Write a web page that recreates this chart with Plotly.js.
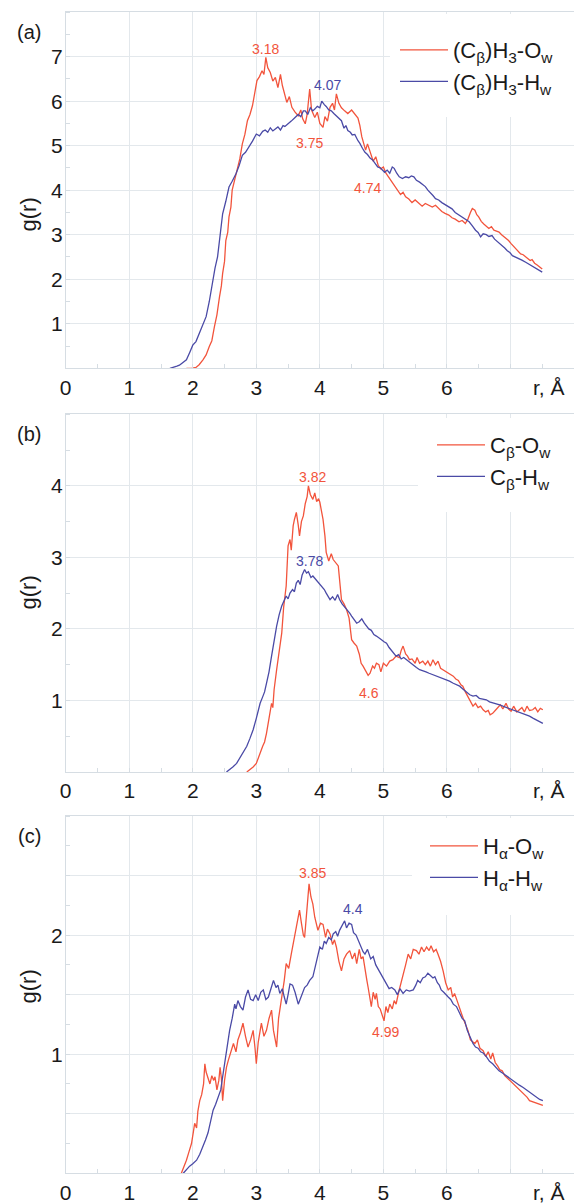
<!DOCTYPE html>
<html><head><meta charset="utf-8">
<script src="https://cdn.plot.ly/plotly-3.0.1.min.js"></script>
<style>html,body{margin:0;padding:0;background:#fff}</style>
</head><body><div id="chart" style="width:574px;height:1203px"></div>
<script>
// ---- data: [r (Å), g(r)] ----
const aOw = [[1.90,0],[1.98,0],[2.05,0.02],[2.10,0.08],[2.16,0.19],[2.21,0.30],[2.26,0.49],[2.30,0.62],[2.34,0.93],[2.38,1.20],[2.42,1.60],[2.45,1.85],[2.47,2.13],[2.50,2.40],[2.52,2.87],[2.55,3.05],[2.57,3.40],[2.60,3.62],[2.62,4.00],[2.66,4.25],[2.70,4.51],[2.74,4.70],[2.78,5.04],[2.82,5.25],[2.86,5.56],[2.90,5.70],[2.94,5.90],[2.98,6.20],[3.01,6.46],[3.05,6.55],[3.09,6.68],[3.12,6.60],[3.15,6.98],[3.18,6.75],[3.22,6.64],[3.26,6.45],[3.30,6.53],[3.34,6.30],[3.38,6.60],[3.41,6.35],[3.43,6.23],[3.46,6.05],[3.48,5.97],[3.52,6.10],[3.56,5.86],[3.61,5.75],[3.66,5.67],[3.70,5.80],[3.73,5.60],[3.77,5.49],[3.80,5.70],[3.84,6.27],[3.87,5.80],[3.92,5.63],[3.96,5.75],[4.00,5.50],[4.05,5.41],[4.08,5.65],[4.12,5.55],[4.16,5.86],[4.20,5.95],[4.23,5.80],[4.26,6.16],[4.30,5.95],[4.34,5.85],[4.39,5.78],[4.44,5.72],[4.50,5.80],[4.55,5.71],[4.60,5.62],[4.63,5.45],[4.66,5.20],[4.69,5.05],[4.72,4.90],[4.75,5.04],[4.80,4.80],[4.84,4.65],[4.88,4.75],[4.92,4.55],[4.96,4.48],[5.00,4.52],[5.04,4.38],[5.08,4.30],[5.12,4.20],[5.16,4.12],[5.19,4.08],[5.23,3.98],[5.27,3.90],[5.31,3.95],[5.35,3.85],[5.40,3.80],[5.45,3.72],[5.50,3.78],[5.56,3.70],[5.61,3.64],[5.66,3.70],[5.72,3.66],[5.77,3.62],[5.82,3.66],[5.87,3.59],[5.92,3.52],[5.97,3.48],[6.03,3.44],[6.08,3.38],[6.13,3.35],[6.19,3.29],[6.24,3.32],[6.29,3.25],[6.33,3.35],[6.37,3.50],[6.40,3.59],[6.44,3.55],[6.47,3.45],[6.50,3.40],[6.54,3.30],[6.58,3.24],[6.62,3.18],[6.66,3.14],[6.70,3.18],[6.74,3.10],[6.78,3.08],[6.82,3.06],[6.86,3.00],[6.90,2.96],[6.94,2.92],[6.97,2.87],[7.01,2.80],[7.05,2.74],[7.09,2.68],[7.13,2.60],[7.16,2.57],[7.20,2.55],[7.24,2.50],[7.28,2.46],[7.31,2.42],[7.34,2.44],[7.38,2.36],[7.42,2.32],[7.46,2.28],[7.50,2.23]];
const aHw = [[1.64,0],[1.70,0.02],[1.75,0.05],[1.79,0.07],[1.84,0.12],[1.90,0.19],[1.95,0.35],[2.00,0.52],[2.05,0.60],[2.10,0.78],[2.15,0.95],[2.21,1.16],[2.26,1.50],[2.31,1.98],[2.35,2.25],[2.39,2.50],[2.43,3.00],[2.47,3.47],[2.52,3.75],[2.57,4.07],[2.62,4.20],[2.68,4.37],[2.73,4.55],[2.78,4.78],[2.83,4.85],[2.88,4.96],[2.94,5.10],[3.00,5.26],[3.05,5.22],[3.10,5.32],[3.14,5.35],[3.18,5.30],[3.22,5.40],[3.26,5.33],[3.30,5.37],[3.34,5.42],[3.38,5.35],[3.42,5.45],[3.45,5.43],[3.50,5.50],[3.55,5.55],[3.61,5.63],[3.66,5.70],[3.70,5.65],[3.74,5.78],[3.77,5.78],[3.81,5.70],[3.85,5.85],[3.89,5.78],[3.92,5.82],[3.96,5.88],[4.00,5.85],[4.03,6.00],[4.07,5.92],[4.10,5.88],[4.14,5.80],[4.18,5.78],[4.22,5.72],[4.26,5.66],[4.30,5.60],[4.34,5.56],[4.38,5.39],[4.41,5.45],[4.44,5.34],[4.48,5.30],[4.51,5.24],[4.55,5.25],[4.60,5.11],[4.63,5.05],[4.67,4.94],[4.71,4.85],[4.75,4.80],[4.79,4.72],[4.83,4.68],[4.87,4.60],[4.91,4.52],[4.95,4.50],[4.98,4.45],[5.02,4.40],[5.06,4.45],[5.10,4.38],[5.14,4.52],[5.17,4.49],[5.21,4.38],[5.25,4.30],[5.30,4.26],[5.35,4.30],[5.40,4.28],[5.44,4.32],[5.48,4.30],[5.52,4.22],[5.57,4.18],[5.62,4.12],[5.66,4.08],[5.70,4.00],[5.74,3.95],[5.78,3.88],[5.82,3.81],[5.87,3.78],[5.92,3.72],[5.97,3.68],[6.03,3.62],[6.08,3.58],[6.13,3.50],[6.19,3.44],[6.24,3.40],[6.29,3.35],[6.35,3.29],[6.40,3.20],[6.45,3.10],[6.49,3.05],[6.53,2.95],[6.57,3.02],[6.62,3.00],[6.66,2.96],[6.71,2.98],[6.75,2.90],[6.80,2.84],[6.84,2.80],[6.87,2.76],[6.91,2.70],[6.95,2.64],[6.99,2.60],[7.03,2.53],[7.08,2.50],[7.13,2.46],[7.18,2.43],[7.24,2.38],[7.29,2.34],[7.34,2.30],[7.40,2.25],[7.45,2.20],[7.50,2.16]];
const bOw = [[2.85,0],[2.90,0.03],[2.95,0.07],[3.00,0.12],[3.03,0.20],[3.06,0.26],[3.10,0.36],[3.13,0.42],[3.16,0.54],[3.20,0.75],[3.24,0.96],[3.26,0.90],[3.28,1.15],[3.32,1.43],[3.35,1.60],[3.37,1.76],[3.40,1.94],[3.43,2.30],[3.45,2.46],[3.47,2.60],[3.50,3.16],[3.53,3.25],[3.55,3.10],[3.58,3.44],[3.60,3.53],[3.63,3.63],[3.66,3.45],[3.68,3.30],[3.71,3.50],[3.74,3.58],[3.77,3.75],[3.80,3.85],[3.82,4.00],[3.85,3.88],[3.89,3.81],[3.92,3.90],[3.95,3.78],[3.98,3.82],[4.00,3.77],[4.03,3.65],[4.05,3.53],[4.08,3.30],[4.10,3.07],[4.14,2.95],[4.18,3.05],[4.21,2.97],[4.25,2.92],[4.29,2.88],[4.32,2.60],[4.34,2.41],[4.38,2.35],[4.42,2.27],[4.46,2.15],[4.48,1.95],[4.50,1.85],[4.54,1.80],[4.58,1.76],[4.62,1.65],[4.65,1.52],[4.68,1.48],[4.72,1.42],[4.76,1.35],[4.79,1.38],[4.83,1.48],[4.86,1.45],[4.89,1.52],[4.93,1.50],[4.96,1.40],[5.00,1.52],[5.05,1.48],[5.10,1.55],[5.15,1.57],[5.20,1.62],[5.25,1.60],[5.28,1.70],[5.31,1.76],[5.35,1.65],[5.38,1.62],[5.41,1.57],[5.45,1.58],[5.50,1.52],[5.53,1.60],[5.57,1.52],[5.62,1.55],[5.66,1.50],[5.70,1.55],[5.74,1.48],[5.78,1.57],[5.82,1.50],[5.86,1.55],[5.90,1.45],[5.94,1.43],[5.98,1.40],[6.02,1.38],[6.06,1.36],[6.10,1.34],[6.14,1.30],[6.18,1.28],[6.22,1.22],[6.25,1.20],[6.29,1.12],[6.33,1.05],[6.37,0.98],[6.41,0.92],[6.45,0.96],[6.49,0.90],[6.53,0.92],[6.57,0.87],[6.61,0.84],[6.65,0.86],[6.68,0.80],[6.72,0.82],[6.76,0.86],[6.80,0.90],[6.84,0.94],[6.88,0.88],[6.93,0.96],[6.97,0.88],[7.01,0.85],[7.05,0.92],[7.10,0.84],[7.14,0.87],[7.18,0.90],[7.22,0.84],[7.26,0.92],[7.30,0.86],[7.35,0.87],[7.39,0.90],[7.43,0.84],[7.47,0.89],[7.51,0.87]];
const bHw = [[2.53,0],[2.58,0.03],[2.63,0.07],[2.69,0.12],[2.74,0.20],[2.80,0.28],[2.85,0.36],[2.90,0.47],[2.95,0.59],[3.00,0.75],[3.03,0.85],[3.06,0.96],[3.10,1.05],[3.13,1.12],[3.16,1.24],[3.20,1.40],[3.24,1.62],[3.28,1.85],[3.32,2.04],[3.36,2.20],[3.40,2.32],[3.44,2.40],[3.47,2.46],[3.50,2.42],[3.53,2.50],[3.57,2.55],[3.60,2.52],[3.63,2.64],[3.66,2.68],[3.69,2.62],[3.72,2.75],[3.76,2.83],[3.79,2.78],[3.82,2.80],[3.86,2.72],[3.89,2.74],[3.93,2.70],[3.97,2.65],[4.00,2.62],[4.03,2.60],[4.07,2.55],[4.10,2.50],[4.13,2.45],[4.16,2.41],[4.20,2.45],[4.24,2.40],[4.28,2.48],[4.31,2.41],[4.35,2.35],[4.40,2.30],[4.44,2.26],[4.47,2.22],[4.50,2.18],[4.54,2.12],[4.58,2.08],[4.62,2.10],[4.66,2.14],[4.70,2.08],[4.73,2.04],[4.77,2.00],[4.81,1.98],[4.85,1.92],[4.89,1.90],[4.93,1.88],[4.97,1.85],[5.01,1.82],[5.05,1.80],[5.09,1.74],[5.13,1.70],[5.17,1.65],[5.20,1.62],[5.24,1.64],[5.28,1.58],[5.32,1.60],[5.36,1.57],[5.40,1.54],[5.44,1.52],[5.48,1.48],[5.52,1.46],[5.57,1.43],[5.62,1.42],[5.67,1.40],[5.72,1.38],[5.78,1.36],[5.83,1.34],[5.88,1.33],[5.94,1.30],[5.99,1.29],[6.04,1.27],[6.10,1.24],[6.15,1.22],[6.20,1.20],[6.25,1.16],[6.30,1.12],[6.36,1.08],[6.41,1.06],[6.46,1.07],[6.51,1.03],[6.57,1.02],[6.62,1.01],[6.67,0.98],[6.72,0.97],[6.78,0.95],[6.83,0.94],[6.88,0.92],[6.94,0.90],[6.99,0.88],[7.04,0.87],[7.09,0.85],[7.14,0.83],[7.19,0.82],[7.25,0.80],[7.30,0.78],[7.36,0.75],[7.41,0.73],[7.46,0.70],[7.51,0.68]];
const cOw = [[1.82,0],[1.86,0.05],[1.90,0.11],[1.94,0.18],[1.98,0.25],[2.01,0.35],[2.03,0.42],[2.06,0.38],[2.08,0.52],[2.11,0.61],[2.14,0.66],[2.17,0.75],[2.19,0.92],[2.21,0.85],[2.24,0.80],[2.27,0.75],[2.30,0.82],[2.33,0.78],[2.35,0.81],[2.38,0.70],[2.41,0.78],[2.43,0.89],[2.45,0.80],[2.47,0.61],[2.50,0.78],[2.53,0.89],[2.56,0.95],[2.60,1.02],[2.64,1.09],[2.68,1.02],[2.71,1.12],[2.75,1.18],[2.79,1.26],[2.83,1.15],[2.87,1.06],[2.91,1.12],[2.95,1.20],[2.98,1.05],[3.00,0.92],[3.03,1.10],[3.06,1.18],[3.08,1.26],[3.12,1.15],[3.16,1.20],[3.20,1.30],[3.24,1.37],[3.27,1.20],[3.30,1.12],[3.32,1.06],[3.35,1.30],[3.38,1.40],[3.40,1.48],[3.44,1.62],[3.47,1.76],[3.51,1.72],[3.55,1.84],[3.59,1.95],[3.61,2.01],[3.64,2.12],[3.68,2.21],[3.71,2.10],[3.74,2.00],[3.76,1.98],[3.79,2.20],[3.83,2.43],[3.86,2.32],[3.89,2.26],[3.92,2.15],[3.95,2.08],[3.97,2.04],[4.01,2.10],[4.05,2.09],[4.09,1.98],[4.12,2.05],[4.16,2.01],[4.20,1.92],[4.23,1.96],[4.26,1.90],[4.30,1.78],[4.34,1.70],[4.38,1.80],[4.42,1.84],[4.47,1.87],[4.51,1.80],[4.55,1.85],[4.58,1.76],[4.62,1.88],[4.65,1.80],[4.68,1.82],[4.71,1.70],[4.74,1.62],[4.76,1.56],[4.79,1.48],[4.81,1.40],[4.84,1.52],[4.87,1.46],[4.89,1.51],[4.92,1.40],[4.95,1.38],[4.98,1.32],[5.01,1.28],[5.04,1.40],[5.07,1.35],[5.10,1.42],[5.14,1.38],[5.17,1.45],[5.20,1.42],[5.24,1.52],[5.27,1.58],[5.31,1.65],[5.35,1.75],[5.39,1.84],[5.43,1.80],[5.47,1.88],[5.52,1.87],[5.56,1.84],[5.60,1.90],[5.64,1.86],[5.68,1.90],[5.72,1.87],[5.75,1.91],[5.79,1.86],[5.83,1.88],[5.86,1.84],[5.90,1.78],[5.94,1.70],[5.98,1.60],[6.02,1.54],[6.06,1.56],[6.09,1.48],[6.12,1.51],[6.16,1.45],[6.20,1.38],[6.23,1.34],[6.27,1.28],[6.30,1.24],[6.33,1.20],[6.37,1.12],[6.41,1.10],[6.44,1.09],[6.48,1.12],[6.52,1.05],[6.57,1.03],[6.61,0.98],[6.65,1.02],[6.69,0.96],[6.72,1.01],[6.76,0.93],[6.80,0.90],[6.83,0.87],[6.87,0.86],[6.91,0.82],[6.95,0.80],[6.99,0.78],[7.03,0.76],[7.07,0.74],[7.10,0.72],[7.14,0.70],[7.18,0.68],[7.22,0.66],[7.26,0.64],[7.30,0.61],[7.35,0.60],[7.40,0.59],[7.45,0.58],[7.51,0.57]];
const cHw = [[1.85,0],[1.90,0.03],[1.95,0.06],[2.00,0.08],[2.06,0.11],[2.11,0.16],[2.16,0.22],[2.20,0.28],[2.24,0.34],[2.28,0.45],[2.32,0.53],[2.36,0.58],[2.40,0.64],[2.44,0.70],[2.47,0.81],[2.50,0.92],[2.53,1.03],[2.56,1.10],[2.58,1.20],[2.62,1.30],[2.66,1.42],[2.68,1.38],[2.71,1.45],[2.75,1.40],[2.79,1.37],[2.83,1.48],[2.87,1.54],[2.91,1.46],[2.95,1.45],[2.99,1.50],[3.03,1.45],[3.07,1.52],[3.11,1.54],[3.15,1.46],[3.19,1.48],[3.23,1.55],[3.27,1.62],[3.31,1.56],[3.34,1.58],[3.37,1.51],[3.41,1.55],[3.44,1.48],[3.47,1.42],[3.50,1.50],[3.53,1.59],[3.57,1.58],[3.61,1.52],[3.66,1.42],[3.70,1.48],[3.73,1.52],[3.76,1.56],[3.80,1.58],[3.84,1.62],[3.89,1.65],[3.93,1.75],[3.97,1.85],[4.00,1.90],[4.04,1.88],[4.07,1.95],[4.10,1.93],[4.14,1.98],[4.18,1.96],[4.21,2.01],[4.25,2.03],[4.28,1.99],[4.31,2.04],[4.35,2.08],[4.39,2.12],[4.42,2.06],[4.46,2.10],[4.50,2.09],[4.53,2.02],[4.57,2.00],[4.60,1.96],[4.64,1.90],[4.68,1.86],[4.71,1.84],[4.75,1.88],[4.80,1.80],[4.84,1.82],[4.88,1.75],[4.91,1.72],[4.94,1.70],[4.98,1.66],[5.02,1.62],[5.05,1.59],[5.09,1.55],[5.13,1.56],[5.18,1.54],[5.22,1.50],[5.26,1.55],[5.31,1.51],[5.36,1.54],[5.41,1.53],[5.47,1.54],[5.51,1.58],[5.54,1.62],[5.58,1.60],[5.62,1.64],[5.66,1.65],[5.70,1.68],[5.74,1.66],[5.78,1.64],[5.81,1.65],[5.85,1.60],[5.88,1.58],[5.91,1.54],[5.95,1.52],[5.98,1.50],[6.02,1.48],[6.06,1.46],[6.10,1.42],[6.15,1.40],[6.20,1.35],[6.24,1.30],[6.28,1.28],[6.32,1.20],[6.36,1.15],[6.41,1.09],[6.45,1.06],[6.49,1.05],[6.53,1.02],[6.57,1.01],[6.62,0.98],[6.67,0.94],[6.72,0.92],[6.77,0.89],[6.82,0.86],[6.88,0.84],[6.93,0.82],[6.98,0.80],[7.04,0.78],[7.09,0.76],[7.14,0.74],[7.20,0.72],[7.25,0.70],[7.30,0.68],[7.36,0.66],[7.41,0.64],[7.46,0.62],[7.51,0.61]];

const seriesNames = [
  ['(C<sub>β</sub>)H<sub>3</sub>-O<sub>w</sub>', '(C<sub>β</sub>)H<sub>3</sub>-H<sub>w</sub>'],
  ['C<sub>β</sub>-O<sub>w</sub>', 'C<sub>β</sub>-H<sub>w</sub>'],
  ['H<sub>α</sub>-O<sub>w</sub>', 'H<sub>α</sub>-H<sub>w</sub>']
];
const panelLabels = ['(a)', '(b)', '(c)'];
const xTickVals = [0,1,2,3,4,5,6,7];
const xTickText = ['0','1','2','3','4','5','6',' '];
// y gridline positions and labelled y values per panel
const yGridVals = [[1,2,3,4,5,6,7,8],[1,2,3,4,5],[0.5,1,1.5,2,2.5,3]];
const yLabelVals = [[1,2,3,4,5,6,7],[1,2,3,4],[1,2]];
const yRanges = [[0,8],[0,5],[0,3]];
const yMinor = [0.5, 0.5, 0.25];
// peak labels: [r, g, text, series(0=Ow,1=Hw)]
const peakLabels = [
  [[3.15,7.17,'3.18',0],[4.12,6.35,'4.07',1],[3.83,5.06,'3.75',0],[4.75,4.05,'4.74',0]],
  [[3.88,4.12,'3.82',0],[3.83,2.95,'3.78',1],[4.77,1.10,'4.6',0]],
  [[3.88,2.52,'3.85',0],[4.52,2.22,'4.4',1],[5.03,1.19,'4.99',0]]
];

const RED = '#f2543c', BLUE = '#4a4aa6';
const FONT = 'Liberation Sans, Arial, sans-serif';
const H = 1203, W = 574;
const data = [[aOw,aHw],[bOw,bHw],[cOw,cHw]];
const yDomainsPx = [[12,368.3],[414.3,772],[816,1173.3]];
// legend: [left px, top px, group gap]
const legPx = [[395,29,8],[432,424,14],[425,825,11]];
// white legend background boxes [x0,x1,y0,y1] px
const legBox = [[390,574,14,117],[418,574,418,512],[412,574,818,915]];
const gTitleY = [215, 593, 987];

const traces = [];
const layout = {
  width: W, height: H,
  margin: {l:0, r:0, t:0, b:0},
  paper_bgcolor: '#fff', plot_bgcolor: '#fff',
  showlegend: true,
  font: {family: FONT, color: '#1a1a1a'},
  annotations: [], shapes: []
};
const grid = '#e3e8ec', axl = '#d6dde3';
for (let p = 0; p < 3; p++) {
  const sx = p === 0 ? '' : String(p+1);
  const legName = p === 0 ? 'legend' : 'legend' + (p+1);
  const yd = [1 - yDomainsPx[p][1]/H, 1 - yDomainsPx[p][0]/H];
  [0,1].forEach(s => {
    traces.push({
      x: data[p][s].map(d => d[0]), y: data[p][s].map(d => d[1]),
      xaxis: 'x' + sx, yaxis: 'y' + sx, type: 'scatter', mode: 'lines',
      name: seriesNames[p][s], legend: legName, legendgroup: 'g'+p+s,
      line: {color: s === 0 ? RED : BLUE, width: 1.3}
    });
  });
  layout['xaxis' + sx] = {
    domain: [65.7/W, 1], anchor: 'y' + sx, range: [0, 8],
    tickmode: 'array', tickvals: xTickVals, ticktext: xTickText,
    showgrid: true, gridcolor: grid, gridwidth: 1, zeroline: false,
    showline: true, linecolor: axl, linewidth: 1, mirror: true,
    ticks: '', ticklabelstandoff: 0,
    tickfont: {size: 21, family: FONT, color: '#1a1a1a'},
    minor: {tickmode: 'linear', tick0: 0, dtick: 0.5, ticks: 'inside', ticklen: 4, tickcolor: axl, showgrid: false}
  };
  layout['yaxis' + sx] = {
    domain: yd, anchor: 'x' + sx, range: yRanges[p],
    tickmode: 'array', tickvals: yGridVals[p], showticklabels: false,
    showgrid: true, gridcolor: grid, gridwidth: 1, zeroline: false,
    showline: true, linecolor: axl, linewidth: 1,
    ticks: '',
    minor: {tickmode: 'linear', tick0: 0, dtick: yMinor[p], ticks: 'inside', ticklen: 4, tickcolor: axl, showgrid: false}
  };
  // y tick labels placed on the y scale, right-aligned against the axis
  yLabelVals[p].forEach(v => {
    layout.annotations.push({
      xref: 'paper', yref: 'y' + sx, x: 65/W, y: v, text: String(v), showarrow: false,
      xanchor: 'right', yanchor: 'middle', font: {size: 21, family: FONT, color: '#1a1a1a'}
    });
  });
  layout[legName] = {
    x: legPx[p][0]/W, y: 1 - legPx[p][1]/H, xanchor: 'left', yanchor: 'top',
    bgcolor: 'rgba(0,0,0,0)', borderwidth: 0, font: {size: 22, family: FONT, color: '#1a1a1a'},
    tracegroupgap: legPx[p][2], itemwidth: 48, traceorder: 'normal'
  };
  const b = legBox[p];
  layout.shapes.push({
    type: 'rect', xref: 'paper', yref: 'paper', layer: 'above',
    x0: b[0]/W, x1: b[1]/W, y0: 1 - b[3]/H, y1: 1 - b[2]/H,
    fillcolor: '#ffffff', line: {width: 0}
  });
  layout.annotations.push({
    xref: 'paper', yref: 'paper', x: 29/W, y: yd[1] - 20/H, text: panelLabels[p],
    showarrow: false, xanchor: 'center', yanchor: 'middle', font: {size: 20, family: FONT, color: '#1a1a1a'}
  });
  layout.annotations.push({
    xref: 'paper', yref: 'paper', x: 27.5/W, y: 1 - gTitleY[p]/H, text: 'g(r)', textangle: -90,
    showarrow: false, xanchor: 'center', yanchor: 'middle', font: {size: 22, family: FONT, color: '#1a1a1a'}
  });
  layout.annotations.push({
    xref: 'paper', yref: 'paper', x: 549/W, y: yd[0] - 18.7/H, text: 'r, Å',
    showarrow: false, xanchor: 'center', yanchor: 'middle', font: {size: 21, family: FONT, color: '#1a1a1a'}
  });
  peakLabels[p].forEach(a => {
    layout.annotations.push({
      xref: 'x' + sx, yref: 'y' + sx, x: a[0], y: a[1], text: a[2], showarrow: false,
      xanchor: 'center', yanchor: 'middle', font: {size: 14, family: FONT, color: a[3] === 0 ? RED : BLUE}
    });
  });
}
Plotly.newPlot('chart', traces, layout, {displayModeBar: false, staticPlot: true});
</script></body></html>
